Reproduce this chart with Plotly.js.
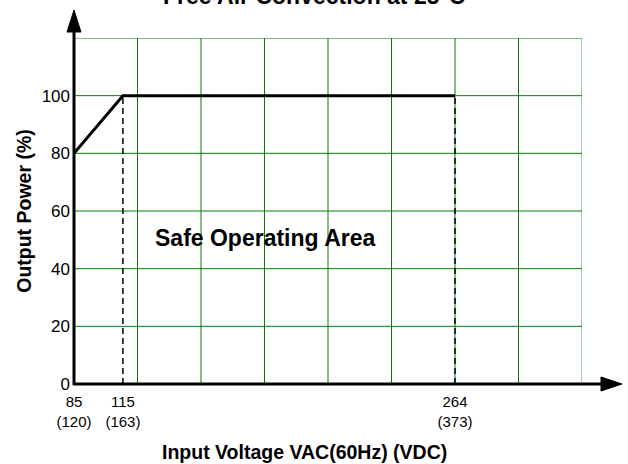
<!DOCTYPE html>
<html>
<head>
<meta charset="utf-8">
<script src="https://cdn.plot.ly/plotly-3.0.1.min.js"></script>
<style>html,body{margin:0;padding:0;background:#fff;}#chart{width:628px;height:464px;}</style>
</head>
<body>
<div id="chart"></div>
<script>
// ---- data ----
const vacTicks = [85, 115, 264];          // input voltage VAC
const vdcTicks = [120, 163, 373];         // equivalent VDC
const tickPos  = [0, 0.77, 6];            // schematic position of each voltage on the 8-column grid
const curvePower = [80, 100, 100];        // output power (%) at each voltage
const yTicks = [0, 20, 40, 60, 80, 100];
const gridX = [1, 2, 3, 4, 5, 6, 7];      // inner vertical grid columns
const gridY = [20, 40, 60, 80, 100, 120]; // horizontal grid rows
const gridXMax = 8, gridYMax = 120;

const FONT = 'Liberation Sans, Arial, Helvetica, sans-serif';
const GREEN = '#008000';

const traces = [
  { x: tickPos, y: curvePower, mode: 'lines', line: {color: '#000', width: 3}, hoverinfo: 'skip', cliponaxis: false },
  { x: [tickPos[1], tickPos[1]], y: [0, curvePower[1]], mode: 'lines', line: {color: '#000', width: 1.5, dash: '6px,4px'}, hoverinfo: 'skip' },
  { x: [tickPos[2], tickPos[2]], y: [0, curvePower[2]], mode: 'lines', line: {color: '#000', width: 1.5, dash: '6px,4px'}, hoverinfo: 'skip' }
];

const shapes = [];
gridX.forEach(v => shapes.push({type: 'line', xref: 'x', yref: 'y', x0: v, x1: v, y0: 0, y1: gridYMax, line: {color: GREEN, width: 1}, layer: 'below'}));
shapes.push({type: 'line', xref: 'x', yref: 'y', x0: gridXMax, x1: gridXMax, y0: 0, y1: gridYMax, line: {color: '#80c080', width: 1.5}, layer: 'below'});
gridY.forEach(v => shapes.push({type: 'line', xref: 'x', yref: 'y', x0: 0, x1: gridXMax, y0: v, y1: v, line: {color: GREEN, width: 1}, layer: 'below'}));
// axes with arrowheads (pixel offsets from plot origin)
shapes.push({type: 'line', xref: 'paper', yref: 'paper', xsizemode: 'pixel', ysizemode: 'pixel', xanchor: 0, yanchor: 0,
  x0: -1, x1: 530, y0: 0, y1: 0, line: {color: '#000', width: 3}});
shapes.push({type: 'path', xref: 'paper', yref: 'paper', xsizemode: 'pixel', ysizemode: 'pixel', xanchor: 0, yanchor: 0,
  path: 'M 527,7 L 548,0 L 527,-7 Z', fillcolor: '#000', line: {color: '#000', width: 1}});
shapes.push({type: 'line', xref: 'paper', yref: 'paper', xsizemode: 'pixel', ysizemode: 'pixel', xanchor: 0, yanchor: 0,
  x0: 0, x1: 0, y0: -1, y1: 354, line: {color: '#000', width: 3}});
shapes.push({type: 'path', xref: 'paper', yref: 'paper', xsizemode: 'pixel', ysizemode: 'pixel', xanchor: 0, yanchor: 0,
  path: 'M -7,352 L 0,374 L 7,352 Z', fillcolor: '#000', line: {color: '#000', width: 1}});

const layout = {
  width: 628, height: 464,
  margin: {l: 74, r: 46, t: 37.5, b: 80, pad: 0},
  paper_bgcolor: '#fff', plot_bgcolor: '#fff',
  showlegend: false,
  font: {family: FONT, color: '#000'},
  xaxis: {range: [0, gridXMax], showgrid: false, zeroline: false, showline: false, ticks: '',
          tickvals: tickPos, ticktext: vacTicks.map((v, i) => v + '<br>(' + vdcTicks[i] + ')'),
          ticklabelstandoff: 7,
          tickfont: {family: FONT, size: 15, color: '#000'}, fixedrange: true},
  yaxis: {range: [0, gridYMax], showgrid: false, zeroline: false, showline: false, ticks: '',
          tickvals: yTicks, ticktext: yTicks.map(String), ticklabelstandoff: 3,
          tickfont: {family: FONT, size: 17, color: '#000'}, fixedrange: true,
          title: {text: '<b>Output Power (%)</b>', font: {family: FONT, size: 19.5, color: '#000'}, standoff: 4}},
  shapes: shapes,
  annotations: [
    {text: '<b>Free Air Convection at 25°C</b>', xref: 'paper', yref: 'paper', x: 0.472, y: 1.0794,
     xanchor: 'center', yanchor: 'bottom', showarrow: false, font: {family: FONT, size: 23, color: '#000'}},
    {text: '<b>Safe Operating Area</b>', xref: 'x', yref: 'y', x: 1.25, y: 50.5, xanchor: 'left', yanchor: 'middle',
     showarrow: false, font: {family: FONT, size: 23, color: '#000'}},
    {text: '<b>Input Voltage VAC(60Hz) (VDC)</b>', xref: 'paper', yref: 'paper', x: 0.453, y: -0.196,
     xanchor: 'center', yanchor: 'middle', showarrow: false, font: {family: FONT, size: 19.5, color: '#000'}}
  ]
};

Plotly.newPlot('chart', traces, layout, {displayModeBar: false, staticPlot: true});
</script>
</body>
</html>
